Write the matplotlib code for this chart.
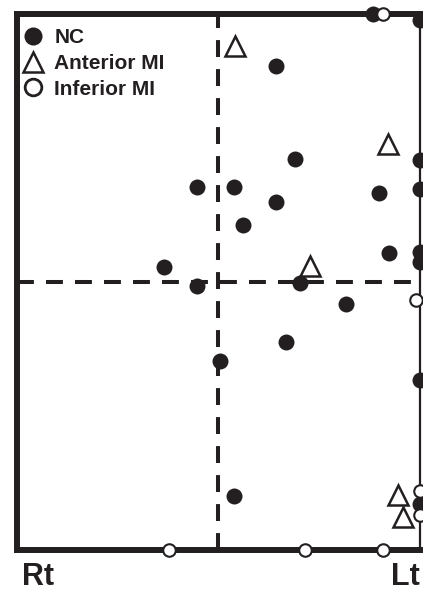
import matplotlib.pyplot as plt

plt.rcParams['font.family'] = ['Liberation Sans', 'DejaVu Sans']

# normalised coordinates, -1..1 on both axes (dashed lines at 0)
nc_x = [0.767, 1.0, 0.286, 0.380, -0.105, 0.078, 0.286, 0.123, 0.797, 1.0, 1.0,
        1.0, 1.0, 0.846, -0.269, -0.105, 0.405, 0.633, 0.336, 0.009, 1.0, 0.078, 1.0]
nc_y = [1.0, 0.976, 0.804, 0.457, 0.353, 0.353, 0.297, 0.211, 0.330, 0.453, 0.345,
        0.110, 0.073, 0.106, 0.054, -0.017, -0.006, -0.084, -0.226, -0.297, -0.368, -0.800, -0.830]

ant_x = [0.083, 0.841, 0.455, 0.891, 0.916]
ant_y = [0.879, 0.513, 0.058, -0.796, -0.879]

inf_x = [0.817, 0.980, 1.0, 1.0, -0.244, 0.430, 0.817]
inf_y = [1.0, -0.069, -0.782, -0.871, -1.0, -1.0, -1.0]

ink = '#231f20'

fig = plt.figure(figsize=(4.23, 5.92), dpi=100)
ax = fig.add_axes([16.5/423, 1-549.5/592, (420-16.5)/423, (549.5-13.5)/592])
ax.set_xlim(-1, 1)
ax.set_ylim(-1, 1)

# dashed cross
ax.axvline(0, color=ink, lw=2.9, ls=(0, (4.2, 3.0)), zorder=1)
ax.axhline(0, color=ink, lw=2.9, ls=(0, (4.2, 3.0)), zorder=1)

ax.plot(nc_x, nc_y, 'o', ms=11.5, mfc=ink, mec=ink, mew=0,
        clip_on=False, zorder=4, label='NC')
ax.plot(ant_x, ant_y, '^', ms=15, mfc='white', mec=ink, mew=1.8,
        clip_on=False, zorder=4, label='Anterior MI')
ax.plot(inf_x, inf_y, 'o', ms=9, mfc='white', mec=ink, mew=1.5,
        clip_on=False, zorder=5, label='Inferior MI')

for side in ['left', 'top', 'bottom']:
    ax.spines[side].set_linewidth(4.3)
ax.spines['right'].set_linewidth(1.6)
for s in ax.spines.values():
    s.set_color(ink)
ax.set_xticks([])
ax.set_yticks([])

leg = ax.legend(loc='upper left', bbox_to_anchor=(14.3/423, 1-20/592),
                bbox_transform=fig.transFigure, borderaxespad=0,
                frameon=False, prop={'weight': 'bold', 'size': 15},
                handletextpad=0.52, handlelength=1.0, labelspacing=0.32)
for h, s in zip(leg.legend_handles, [13, 15, 12]):
    h.set_markersize(s)
leg.legend_handles[2].set_markeredgewidth(2.0)
for t in leg.get_texts():
    t.set_color(ink)

fig.text(22/423, 0, 'Rt', fontsize=22, fontweight='bold', color=ink, va='bottom')
fig.text(420/423, 0, 'Lt', fontsize=22, fontweight='bold', color=ink, ha='right', va='bottom')

plt.savefig('out.png', dpi=100)
